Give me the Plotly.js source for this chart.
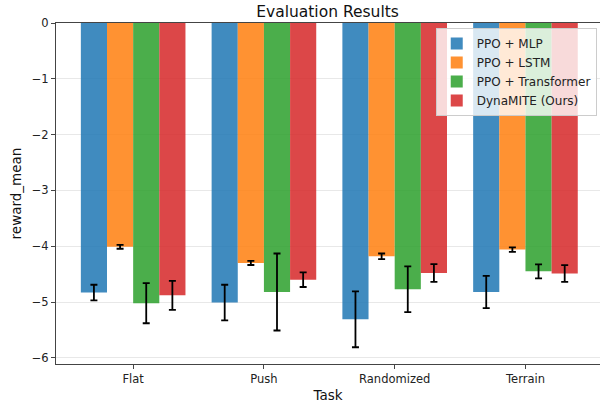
<!DOCTYPE html>
<html>
<head>
<meta charset="utf-8">
<script src="https://cdn.plot.ly/plotly-3.0.1.min.js"></script>
<style>html,body{margin:0;padding:0;background:#fff;}</style>
</head>
<body>
<div id="chart" style="width:601px;height:404px;"></div>
<script>
const tasks = ["Flat", "Push", "Randomized", "Terrain"];
const seriesNames = ["PPO + MLP", "PPO + LSTM", "PPO + Transformer", "DynaMITE (Ours)"];
const mlpMean = [-4.83, -5.01, -5.31, -4.82];
const mlpErr = [0.14, 0.32, 0.50, 0.29];
const lstmMean = [-4.01, -4.30, -4.18, -4.06];
const lstmErr = [0.035, 0.036, 0.05, 0.04];
const transMean = [-5.02, -4.82, -4.77, -4.45];
const transErr = [0.36, 0.69, 0.41, 0.125];
const dynaMean = [-4.88, -4.60, -4.48, -4.49];
const dynaErr = [0.26, 0.13, 0.16, 0.15];
const colors = ["rgba(31,119,180,0.85)", "rgba(255,127,14,0.85)", "rgba(44,160,44,0.85)", "rgba(214,39,40,0.85)"];

const means = [mlpMean, lstmMean, transMean, dynaMean];
const errs = [mlpErr, lstmErr, transErr, dynaErr];

const traces = seriesNames.map((name, i) => ({
  type: "bar",
  name: name,
  x: tasks,
  y: means[i],
  marker: {color: colors[i], line: {width: 0}},
  error_y: {type: "data", array: errs[i], visible: true, color: "#000", thickness: 1.8, width: 3.5}
}));

const font = "DejaVu Sans, sans-serif";
const layout = {
  width: 601, height: 404,
  margin: {l: 56, r: 1, t: 23, b: 40, pad: 0},
  paper_bgcolor: "#fff", plot_bgcolor: "#fff",
  font: {family: font, color: "#222", size: 11},
  barmode: "group", bargap: 0.2, bargroupgap: 0,
  title: {text: "Evaluation Results", font: {family: font, size: 15.5, color: "#111"}, x: 0.545, xanchor: "center", y: 0.972, yanchor: "middle"},
  xaxis: {
    type: "category", range: [-0.59, 3.57],
    showline: true, linecolor: "#444", linewidth: 1, mirror: true,
    ticks: "outside", ticklen: 4, tickcolor: "#444",
    showgrid: false, zeroline: false,
    tickfont: {family: font, size: 11.5, color: "#222"},
    title: {text: "Task", font: {family: font, size: 13.5, color: "#111"}, standoff: 5}
  },
  yaxis: {
    range: [-6.11, 0],
    tickvals: [0, -1, -2, -3, -4, -5, -6],
    showline: true, linecolor: "#444", linewidth: 1, mirror: false,
    ticks: "outside", ticklen: 4, tickcolor: "#444",
    showgrid: true, gridcolor: "#e8e8e8", gridwidth: 1, zeroline: false,
    tickfont: {family: font, size: 11.5, color: "#222"},
    title: {text: "reward_mean", font: {family: font, size: 13.5, color: "#111"}, standoff: 7}
  },
  legend: {
    x: 0.994, y: 0.985, xanchor: "right", yanchor: "top",
    bgcolor: "rgba(255,255,255,0.8)", bordercolor: "#cccccc", borderwidth: 1,
    font: {family: font, size: 12, color: "#222"},
    tracegroupgap: 0, itemwidth: 30
  },
  showlegend: true
};

Plotly.newPlot("chart", traces, layout, {displayModeBar: false, staticPlot: true});
</script>
</body>
</html>
